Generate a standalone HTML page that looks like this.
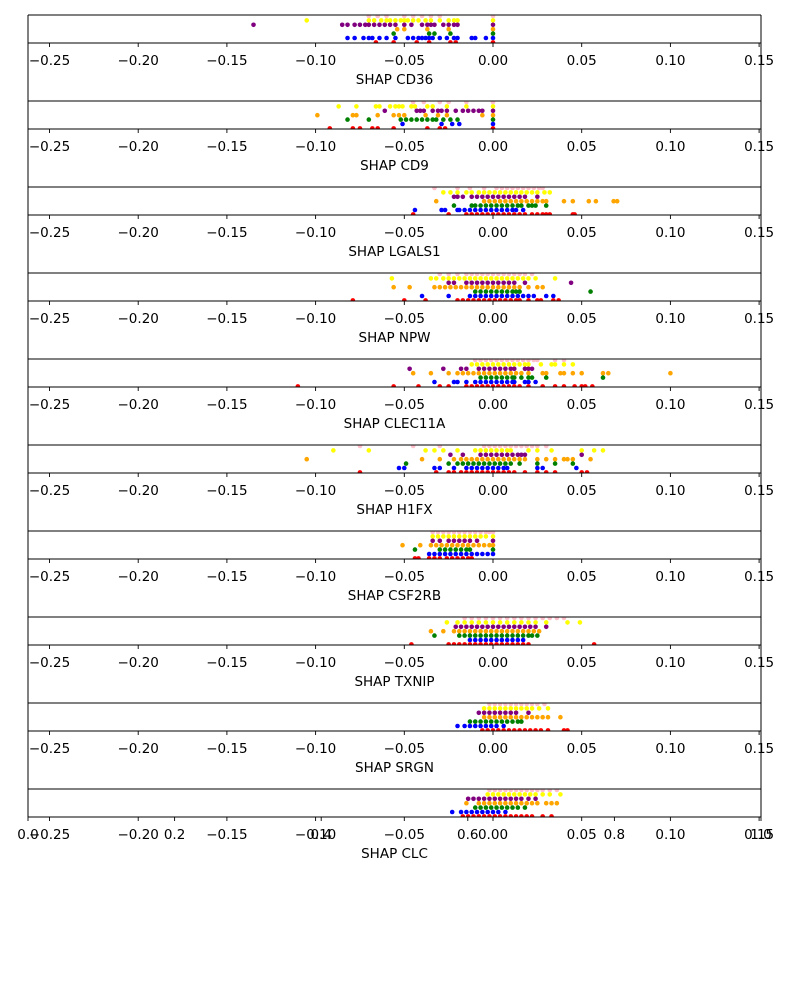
<!DOCTYPE html>
<html><head><meta charset="utf-8">
<style>
html,body{margin:0;padding:0;background:#fff;}
svg{display:block;font-family:"DejaVu Sans","Liberation Sans",sans-serif;}
</style></head>
<body>
<svg id="chart" width="800" height="1000" viewBox="0 0 800 1000" xmlns="http://www.w3.org/2000/svg"></svg>
<script>
// ---- data ----
const features = ["CD36","CD9","LGALS1","NPW","CLEC11A","H1FX","CSF2RB","TXNIP","SRGN","CLC"];
const groupColors = ["pink","yellow","purple","orange","green","blue","red"];
const xTicks = [-0.25,-0.20,-0.15,-0.10,-0.05,0.00,0.05,0.10,0.15];
const xTickLabels = ["\u22120.25","\u22120.20","\u22120.15","\u22120.10","\u22120.05","0.00","0.05","0.10","0.15"];
const overlayTicks = [0.0,0.2,0.4,0.6,0.8,1.0];
const overlayTickLabels = ["0.0","0.2","0.4","0.6","0.8","1.0"];

const CD36 = [
 [-0.07,-0.065,-0.06,-0.05,-0.045,-0.04,-0.035,-0.03,0],
 [-0.105,-0.07,-0.067,-0.063,-0.06,-0.058,-0.055,-0.052,-0.05,-0.048,-0.045,-0.042,-0.038,-0.035,-0.03,-0.025,-0.022,-0.02,0],
 [-0.135,-0.085,-0.082,-0.078,-0.075,-0.072,-0.07,-0.067,-0.064,-0.061,-0.058,-0.055,-0.05,-0.046,-0.04,-0.037,-0.035,-0.033,-0.028,-0.025,-0.022,-0.02,0],
 [-0.054,-0.05,-0.037,-0.025,0],
 [-0.056,-0.036,-0.033,-0.024,0],
 [-0.082,-0.078,-0.073,-0.07,-0.068,-0.064,-0.06,-0.055,-0.048,-0.045,-0.042,-0.04,-0.038,-0.036,-0.034,-0.03,-0.026,-0.022,-0.02,-0.012,-0.01,-0.004,0],
 [-0.066,-0.056,-0.043,-0.036,-0.024,-0.021,0]
];
const CD9 = [
 [-0.045,-0.039,-0.03,-0.025,-0.015,0],
 [-0.087,-0.077,-0.066,-0.064,-0.058,-0.055,-0.053,-0.051,-0.046,-0.044,-0.037,-0.034,-0.026,-0.015,0],
 [-0.061,-0.043,-0.041,-0.039,-0.034,-0.031,-0.029,-0.026,-0.021,-0.017,-0.014,-0.011,-0.008,-0.006,0],
 [-0.099,-0.079,-0.077,-0.065,-0.056,-0.053,-0.05,-0.038,-0.031,-0.026,-0.006,0],
 [-0.082,-0.07,-0.052,-0.049,-0.046,-0.043,-0.04,-0.037,-0.034,-0.032,-0.028,-0.024,-0.02,0],
 [-0.051,-0.029,-0.023,-0.019,0],
 [-0.092,-0.079,-0.075,-0.068,-0.065,-0.056,-0.037,-0.03,-0.027,0]
];
const LGALS1 = [
 [-0.033,-0.02,-0.013,-0.005,0.002,0.005,0.008,0.011,0.014,0.017,0.02,0.023,0.026,0.028],
 [-0.028,-0.024,-0.02,-0.015,-0.012,-0.008,-0.005,-0.002,0.001,0.004,0.007,0.01,0.013,0.016,0.019,0.022,0.025,0.029,0.032],
 [-0.022,-0.02,-0.017,-0.012,-0.009,-0.006,-0.003,0,0.003,0.006,0.009,0.012,0.015,0.018,0.025],
 [-0.032,-0.005,-0.002,0.001,0.004,0.007,0.01,0.013,0.016,0.019,0.022,0.025,0.028,0.03,0.04,0.045,0.054,0.058,0.068,0.07],
 [-0.022,-0.012,-0.01,-0.007,-0.004,-0.001,0.002,0.005,0.008,0.011,0.014,0.016,0.02,0.022,0.024,0.03],
 [-0.044,-0.029,-0.027,-0.02,-0.019,-0.016,-0.013,-0.01,-0.007,-0.004,-0.001,0.002,0.005,0.008,0.011,0.013,0.017],
 [-0.045,-0.025,-0.015,-0.012,-0.009,-0.006,-0.003,0,0.003,0.006,0.009,0.012,0.015,0.018,0.022,0.025,0.028,0.03,0.032,0.045,0.046]
];
const NPW = [
 [-0.03,-0.025,-0.02,-0.015,-0.012,-0.009,-0.006,-0.003,0,0.003,0.006,0.009,0.012,0.015,0.018,0.022],
 [-0.057,-0.035,-0.032,-0.028,-0.025,-0.022,-0.019,-0.016,-0.013,-0.01,-0.007,-0.004,-0.001,0.002,0.005,0.008,0.011,0.014,0.017,0.02,0.024,0.035],
 [-0.025,-0.022,-0.015,-0.012,-0.009,-0.006,-0.003,0,0.003,0.006,0.009,0.012,0.018,0.044],
 [-0.056,-0.047,-0.033,-0.03,-0.027,-0.024,-0.021,-0.018,-0.015,-0.012,-0.009,-0.006,-0.003,0,0.003,0.006,0.009,0.012,0.015,0.02,0.025,0.028],
 [-0.01,-0.007,-0.004,-0.001,0.002,0.005,0.008,0.011,0.013,0.015,0.055],
 [-0.04,-0.025,-0.013,-0.01,-0.007,-0.004,-0.001,0.002,0.005,0.008,0.011,0.014,0.017,0.02,0.023,0.03,0.034],
 [-0.079,-0.05,-0.038,-0.02,-0.017,-0.014,-0.011,-0.008,-0.005,-0.002,0.001,0.004,0.007,0.01,0.013,0.015,0.02,0.025,0.027,0.034,0.037]
];
const CLEC11A = [
 [-0.01,-0.007,-0.004,-0.001,0.002,0.005,0.008,0.011,0.014,0.017,0.02,0.023,0.025,0.035,0.04],
 [-0.012,-0.009,-0.006,-0.003,0,0.003,0.006,0.009,0.012,0.015,0.018,0.02,0.027,0.033,0.035,0.04,0.045],
 [-0.047,-0.028,-0.018,-0.015,-0.008,-0.005,-0.002,0.001,0.004,0.007,0.01,0.012,0.018,0.02,0.022],
 [-0.045,-0.035,-0.025,-0.02,-0.017,-0.014,-0.011,-0.008,-0.005,-0.002,0.001,0.004,0.007,0.01,0.013,0.016,0.02,0.028,0.03,0.038,0.04,0.045,0.05,0.062,0.065,0.1],
 [-0.007,-0.004,-0.001,0.002,0.005,0.008,0.011,0.012,0.016,0.02,0.022,0.03,0.062],
 [-0.033,-0.022,-0.02,-0.015,-0.01,-0.007,-0.004,-0.001,0.002,0.005,0.008,0.011,0.012,0.018,0.02,0.024],
 [-0.11,-0.056,-0.042,-0.03,-0.025,-0.015,-0.012,-0.009,-0.006,-0.003,0,0.003,0.006,0.009,0.012,0.015,0.02,0.028,0.035,0.04,0.046,0.05,0.052,0.056]
];
const H1FX = [
 [-0.075,-0.045,-0.03,-0.005,-0.002,0.001,0.004,0.007,0.01,0.013,0.016,0.019,0.022,0.025,0.03],
 [-0.09,-0.07,-0.038,-0.033,-0.028,-0.02,-0.01,-0.007,-0.004,-0.001,0.002,0.005,0.008,0.01,0.02,0.025,0.033,0.05,0.057,0.062],
 [-0.024,-0.017,-0.007,-0.004,-0.001,0.002,0.005,0.008,0.011,0.014,0.016,0.018,0.05],
 [-0.105,-0.04,-0.03,-0.022,-0.018,-0.015,-0.012,-0.009,-0.006,-0.003,0,0.003,0.006,0.009,0.012,0.015,0.018,0.025,0.03,0.035,0.04,0.042,0.045,0.055],
 [-0.049,-0.025,-0.02,-0.017,-0.014,-0.011,-0.008,-0.005,-0.002,0.001,0.004,0.007,0.01,0.015,0.025,0.035,0.045],
 [-0.053,-0.05,-0.033,-0.03,-0.022,-0.015,-0.012,-0.009,-0.006,-0.003,0,0.003,0.006,0.008,0.025,0.028,0.047],
 [-0.075,-0.032,-0.025,-0.022,-0.018,-0.015,-0.012,-0.009,-0.006,-0.003,0,0.003,0.006,0.009,0.012,0.018,0.025,0.03,0.035,0.05,0.053]
];
const CSF2RB = [
 [-0.034,-0.031,-0.028,-0.025,-0.022,-0.019,-0.016,-0.013,-0.01,-0.007,-0.004,-0.002,0],
 [-0.034,-0.031,-0.028,-0.025,-0.022,-0.019,-0.016,-0.013,-0.01,-0.007,-0.004,0],
 [-0.034,-0.03,-0.025,-0.022,-0.019,-0.016,-0.013,-0.009,0],
 [-0.051,-0.041,-0.035,-0.032,-0.029,-0.026,-0.023,-0.02,-0.017,-0.014,-0.011,-0.008,-0.005,-0.002,0],
 [-0.044,-0.03,-0.027,-0.024,-0.021,-0.018,-0.015,-0.013,0],
 [-0.036,-0.033,-0.03,-0.027,-0.024,-0.021,-0.018,-0.015,-0.012,-0.009,-0.006,-0.003,0],
 [-0.044,-0.042,-0.036,-0.033,-0.03,-0.026,-0.023,-0.02,-0.017,-0.014,-0.012]
];
const TXNIP = [
 [-0.016,-0.012,-0.008,-0.004,0,0.004,0.008,0.012,0.016,0.02,0.024,0.028,0.032,0.036,0.04],
 [-0.026,-0.02,-0.016,-0.012,-0.008,-0.004,0,0.004,0.008,0.012,0.016,0.02,0.024,0.03,0.042,0.049],
 [-0.021,-0.018,-0.015,-0.012,-0.009,-0.006,-0.003,0,0.003,0.006,0.009,0.012,0.015,0.018,0.021,0.024,0.03],
 [-0.035,-0.028,-0.022,-0.019,-0.016,-0.013,-0.01,-0.007,-0.004,-0.001,0.002,0.005,0.008,0.011,0.014,0.017,0.02,0.023,0.026],
 [-0.033,-0.019,-0.016,-0.013,-0.01,-0.007,-0.004,-0.001,0.002,0.005,0.008,0.011,0.014,0.017,0.02,0.022,0.025],
 [-0.013,-0.01,-0.007,-0.004,-0.001,0.002,0.005,0.008,0.011,0.014,0.017],
 [-0.046,-0.025,-0.022,-0.019,-0.016,-0.013,-0.01,-0.007,-0.004,-0.001,0.002,0.005,0.008,0.011,0.014,0.017,0.02,0.057]
];
const SRGN = [
 [-0.002,0.001,0.004,0.007,0.01,0.013,0.016,0.019,0.022,0.025,0.029],
 [-0.005,-0.002,0.001,0.004,0.007,0.01,0.013,0.016,0.019,0.022,0.026,0.031],
 [-0.008,-0.005,-0.002,0.001,0.004,0.007,0.01,0.013,0.02],
 [-0.005,-0.002,0.001,0.004,0.007,0.01,0.013,0.016,0.019,0.022,0.025,0.028,0.031,0.038],
 [-0.013,-0.01,-0.007,-0.004,-0.001,0.002,0.005,0.008,0.011,0.014,0.016],
 [-0.02,-0.016,-0.013,-0.01,-0.007,-0.004,-0.001,0.002,0.006],
 [-0.006,-0.003,0,0.003,0.006,0.009,0.012,0.015,0.018,0.021,0.024,0.027,0.031,0.04,0.042]
];
const CLC = [
 [-0.002,0.001,0.004,0.007,0.01,0.013,0.016,0.019,0.022,0.025,0.028,0.032,0.036],
 [-0.003,0,0.003,0.006,0.009,0.012,0.015,0.018,0.021,0.024,0.028,0.032,0.038],
 [-0.014,-0.011,-0.008,-0.005,-0.002,0.001,0.004,0.007,0.01,0.013,0.016,0.02,0.024],
 [-0.015,-0.008,-0.005,-0.002,0.001,0.004,0.007,0.01,0.013,0.016,0.019,0.022,0.025,0.03,0.033,0.036],
 [-0.01,-0.007,-0.004,-0.001,0.002,0.005,0.008,0.011,0.014,0.018],
 [-0.023,-0.018,-0.015,-0.012,-0.009,-0.006,-0.003,0,0.003,0.007],
 [-0.017,-0.014,-0.011,-0.008,-0.005,-0.002,0.001,0.004,0.007,0.01,0.013,0.016,0.019,0.022,0.028,0.033]
];
const panelData = [CD36,CD9,LGALS1,NPW,CLEC11A,H1FX,CSF2RB,TXNIP,SRGN,CLC];

// ---- layout ----
const NS = "http://www.w3.org/2000/svg";
const svg = document.getElementById("chart");
const L = 28, R = 761, firstTop = 15, panelH = 28, panelStep = 86;
const X0 = 493, XS = 1774;
function xScale(v){ return X0 + v*XS; }
function rowY(top, i){ return top + 1 + i*4.4; }
function oScale(v){ return L + v*(R-L); }
function mk(tag, attrs, parent){
  const e = document.createElementNS(NS, tag);
  for (const k in attrs) e.setAttribute(k, attrs[k]);
  (parent||svg).appendChild(e);
  return e;
}

features.forEach((f, p) => {
  const top = firstTop + p*panelStep;
  const g = mk("g", {});
  
  
  const clipId = "clip" + p;
  const cp = mk("clipPath", {id: clipId}, g);
  mk("rect", {x: L, y: top, width: R-L, height: panelH}, cp);
  const dots = mk("g", {"clip-path": "url(#" + clipId + ")"}, g);
  
  
  panelData[p].forEach((vals, gi) => {
    vals.forEach(v => {
      const c = mk("circle", {cx: xScale(v), cy: rowY(top, gi), r: 2.3, fill: groupColors[gi]}, dots);
      
      
    });
  });
  mk("line", {x1: L, x2: R, y1: top, y2: top, stroke: "#000", "stroke-width": 1}, g);
  mk("line", {x1: L, x2: R, y1: top+panelH, y2: top+panelH, stroke: "#000", "stroke-width": 1}, g);
  xTicks.forEach((t, i) => {
    const x = xScale(t);
    mk("line", {x1: x, x2: x, y1: top+panelH, y2: top+panelH+4, stroke: "#000", "stroke-width": 0.9}, g);
    const tx = mk("text", {x: x, y: top+panelH+22, "text-anchor": "middle", "font-size": "13.5px", fill: "#000"}, g);
    tx.textContent = xTickLabels[i];
    
    
  });
  const lab = mk("text", {x: 394.5, y: top+panelH+41, "text-anchor": "middle", "font-size": "13.5px", fill: "#000"}, g);
  lab.textContent = "SHAP " + f;
  
  
});

const ov = mk("g", {});


const lastBottom = firstTop + 9*panelStep + panelH;
mk("line", {x1: L, x2: L, y1: firstTop, y2: lastBottom, stroke: "#000", "stroke-width": 1}, ov);
mk("line", {x1: R, x2: R, y1: firstTop, y2: lastBottom, stroke: "#000", "stroke-width": 1}, ov);
overlayTicks.forEach((t, i) => {
  const x = oScale(t);
  mk("line", {x1: x, x2: x, y1: lastBottom, y2: lastBottom+4, stroke: "#000", "stroke-width": 0.9}, ov);
  const tx = mk("text", {x: x, y: lastBottom+22, "text-anchor": "middle", "font-size": "13.5px", fill: "#000"}, ov);
  tx.textContent = overlayTickLabels[i];
  
  
});
</script>
</body></html>
